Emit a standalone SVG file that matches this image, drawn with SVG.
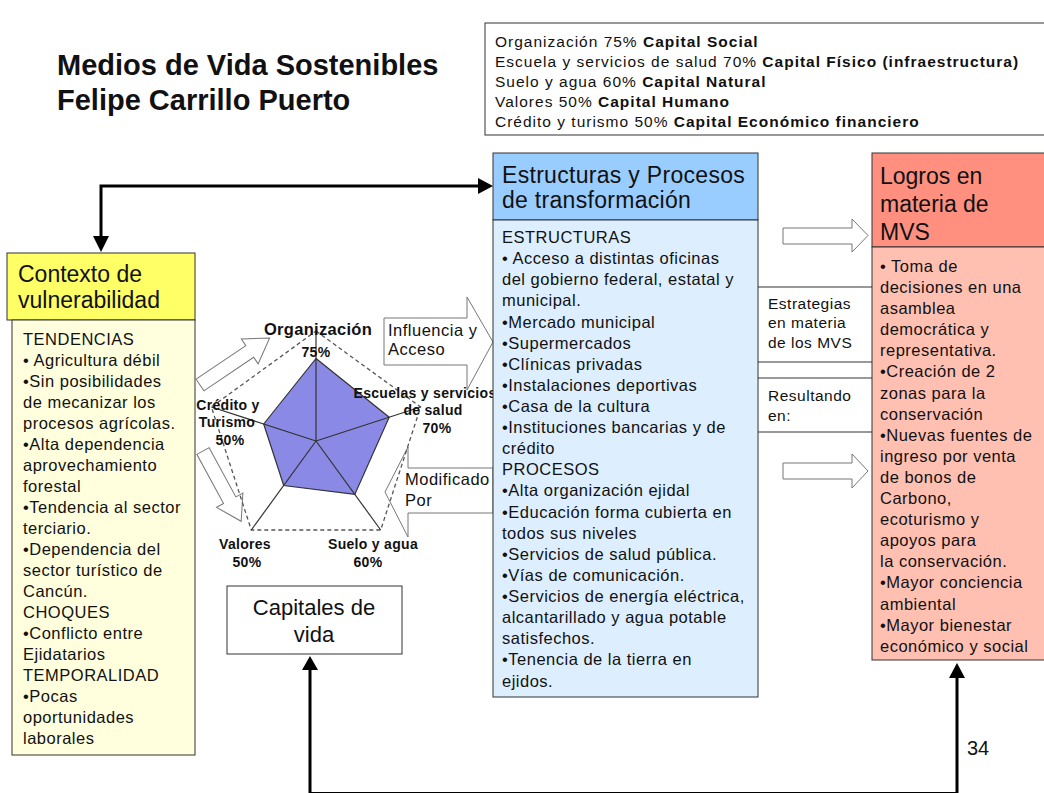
<svg xmlns="http://www.w3.org/2000/svg" width="1044" height="793" viewBox="0 0 1044 793">
<style>
text{font-family:"Liberation Sans",Arial,sans-serif;fill:#111}
.title{font-size:29px;font-weight:bold}
.hd{font-size:23px}
.bd{font-size:16.5px;letter-spacing:0.5px}
.tr{font-size:15.5px;letter-spacing:1px}
.lbl{font-size:14px;font-weight:bold;text-anchor:middle;letter-spacing:0.3px}
.box{stroke:#333;stroke-width:1}
.hollow{fill:#fff;stroke:#777;stroke-width:1}
.conn{fill:none;stroke:#000;stroke-width:3}
.sep{stroke:#333;stroke-width:1}
</style>
<rect width="1044" height="793" fill="#fff"/>

<g id="title">
<text class="title" x="57" y="75">Medios de Vida Sostenibles</text>
<text class="title" x="57" y="110">Felipe Carrillo Puerto</text>
</g>

<g id="legend">
<rect x="485" y="23" width="570" height="112" fill="#fff" class="box"/>
<text class="tr" x="495" y="47">Organización 75% <tspan font-weight="bold">Capital Social</tspan></text>
<text class="tr" x="495" y="67">Escuela y servicios de salud 70% <tspan font-weight="bold">Capital Físico (infraestructura)</tspan></text>
<text class="tr" x="495" y="87">Suelo y agua 60% <tspan font-weight="bold">Capital Natural</tspan></text>
<text class="tr" x="495" y="107">Valores 50% <tspan font-weight="bold">Capital Humano</tspan></text>
<text class="tr" x="495" y="127">Crédito y turismo 50% <tspan font-weight="bold">Capital Económico financiero</tspan></text>
</g>

<g id="connectors">
<path class="conn" d="M101,238 L101,186 L479,186"/>
<polygon points="93,236 109,236 101,252" fill="#000"/>
<polygon points="478,178 478,194 493,186" fill="#000"/>
<path class="conn" d="M310,670 L310,793.5 L957,793.5 L957,677"/>
<polygon points="302,670 318,670 310,656" fill="#000"/>
<polygon points="949,678 965,678 957,663" fill="#000"/>
</g>

<g id="contexto">
<rect x="7" y="253" width="188" height="67" fill="#FFFF66" class="box"/>
<rect x="12" y="320" width="183" height="435" fill="#FFFFDD" class="box"/>
<text class="hd" x="18" y="282">Contexto de</text>
<text class="hd" x="18" y="308">vulnerabilidad</text>
<text class="bd">
<tspan x="23" y="345">TENDENCIAS</tspan>
<tspan x="23" y="366">• Agricultura débil</tspan>
<tspan x="23" y="387">•Sin posibilidades</tspan>
<tspan x="23" y="408">de mecanizar los</tspan>
<tspan x="23" y="429">procesos agrícolas.</tspan>
<tspan x="23" y="450">•Alta dependencia</tspan>
<tspan x="23" y="471">aprovechamiento</tspan>
<tspan x="23" y="492">forestal</tspan>
<tspan x="23" y="513">•Tendencia al sector</tspan>
<tspan x="23" y="534">terciario.</tspan>
<tspan x="23" y="555">•Dependencia del</tspan>
<tspan x="23" y="576">sector turístico de</tspan>
<tspan x="23" y="597">Cancún.</tspan>
<tspan x="23" y="618">CHOQUES</tspan>
<tspan x="23" y="639">•Conflicto entre</tspan>
<tspan x="23" y="660">Ejidatarios</tspan>
<tspan x="23" y="681">TEMPORALIDAD</tspan>
<tspan x="23" y="702">•Pocas</tspan>
<tspan x="23" y="723">oportunidades</tspan>
<tspan x="23" y="744">laborales</tspan>
</text>
</g>

<g id="flechas-huecas">
<path class="hollow" d="M0,-7 L60,-7 L60,-15 L84,0 L60,15 L60,7 L0,7 Z" transform="translate(200,385) rotate(-34)"/>
<path class="hollow" d="M0,-7 L56,-7 L56,-15 L80,0 L56,15 L56,7 L0,7 Z" transform="translate(203,451) rotate(61.5)"/>
<path class="hollow" d="M384,318 L467,318 L467,297 L493,342 L467,390 L467,365 L384,365 Z"/>
<text class="bd" x="388" y="336">Influencia y</text>
<text class="bd" x="388" y="355">Acceso</text>
<path class="hollow" d="M493,468 L408,468 L408,447 L385,492 L408,537 L408,513 L493,513 Z"/>
<text class="bd" x="405" y="485">Modificado</text>
<text class="bd" x="405" y="506">Por</text>
<path class="hollow" d="M783,228 L852,228 L852,219 L868,235.5 L852,252 L852,244 L783,244 Z"/>
<path class="hollow" d="M783,463 L852,463 L852,454 L868,471 L852,488 L852,479 L783,479 Z"/>
</g>

<g id="radar">
<polygon points="316,331 420.6,407 380.7,530 251.3,530 211.4,407" fill="none" stroke="#555" stroke-width="1.3" stroke-dasharray="4,3"/>
<polygon points="316,358.5 389.2,417.2 354.8,494.4 283.7,485.5 263.7,424" fill="#8A8AE6" stroke="#333" stroke-width="1.2"/>
<g stroke="#333" stroke-width="1.2">
<line x1="316" y1="441" x2="316" y2="331"/>
<line x1="316" y1="441" x2="420.6" y2="407"/>
<line x1="316" y1="441" x2="380.7" y2="530"/>
<line x1="316" y1="441" x2="251.3" y2="530"/>
<line x1="316" y1="441" x2="211.4" y2="407"/>
</g>
<text class="lbl" x="318" y="335" style="font-size:16.5px">Organización</text>
<text class="lbl" x="316" y="357">75%</text>
<text class="lbl" x="425" y="398">Escuelas y servicios</text>
<text class="lbl" x="433" y="415">de salud</text>
<text class="lbl" x="437" y="433">70%</text>
<text class="lbl" x="228" y="410">Crédito y</text>
<text class="lbl" x="227" y="427">Turismo</text>
<text class="lbl" x="230" y="445">50%</text>
<text class="lbl" x="245" y="549">Valores</text>
<text class="lbl" x="247" y="567">50%</text>
<text class="lbl" x="373" y="549">Suelo y agua</text>
<text class="lbl" x="368" y="567">60%</text>
</g>

<g id="capitales">
<rect x="227" y="586" width="175" height="68" fill="#fff" class="box"/>
<text class="hd" x="314" y="615" text-anchor="middle" style="font-size:22px">Capitales de</text>
<text class="hd" x="314" y="642" text-anchor="middle" style="font-size:22px">vida</text>
</g>

<g id="estructuras">
<rect x="493" y="153" width="265" height="67" fill="#99CCFF" class="box"/>
<rect x="493" y="220" width="265" height="477" fill="#DDEEFF" class="box"/>
<text class="hd" x="502" y="183" style="letter-spacing:0.3px">Estructuras y Procesos</text>
<text class="hd" x="502" y="208" style="letter-spacing:0.3px">de transformación</text>
<text class="bd">
<tspan x="502" y="243">ESTRUCTURAS</tspan>
<tspan x="502" y="264">• Acceso a distintas oficinas</tspan>
<tspan x="502" y="285">del gobierno federal, estatal y</tspan>
<tspan x="502" y="306">municipal.</tspan>
<tspan x="502" y="328">•Mercado municipal</tspan>
<tspan x="502" y="349">•Supermercados</tspan>
<tspan x="502" y="370">•Clínicas privadas</tspan>
<tspan x="502" y="391">•Instalaciones deportivas</tspan>
<tspan x="502" y="412">•Casa de la cultura</tspan>
<tspan x="502" y="433">•Instituciones bancarias y de</tspan>
<tspan x="502" y="454">crédito</tspan>
<tspan x="502" y="475">PROCESOS</tspan>
<tspan x="502" y="496">•Alta organización ejidal</tspan>
<tspan x="502" y="518">•Educación forma cubierta en</tspan>
<tspan x="502" y="539">todos sus niveles</tspan>
<tspan x="502" y="560">•Servicios de salud pública.</tspan>
<tspan x="502" y="581">•Vías de comunicación.</tspan>
<tspan x="502" y="602">•Servicios de energía eléctrica,</tspan>
<tspan x="502" y="623">alcantarillado y agua potable</tspan>
<tspan x="502" y="644">satisfechos.</tspan>
<tspan x="502" y="665">•Tenencia de la tierra en</tspan>
<tspan x="502" y="687">ejidos.</tspan>
</text>
</g>

<g id="estrategias">
<line class="sep" x1="758" y1="287" x2="872" y2="287"/>
<line class="sep" x1="758" y1="362" x2="872" y2="362"/>
<line class="sep" x1="758" y1="378" x2="872" y2="378"/>
<line class="sep" x1="758" y1="432" x2="872" y2="432"/>
<text class="bd" x="768" y="309" style="font-size:15.5px">Estrategias</text>
<text class="bd" x="768" y="328" style="font-size:15.5px">en materia</text>
<text class="bd" x="768" y="348" style="font-size:15.5px">de los MVS</text>
<text class="bd" x="768" y="401" style="font-size:15.5px">Resultando</text>
<text class="bd" x="768" y="421" style="font-size:15.5px">en:</text>
</g>

<g id="logros">
<rect x="872" y="153" width="180" height="94" fill="#FF9080" class="box"/>
<rect x="872" y="247" width="180" height="413" fill="#FFC0B2" class="box"/>
<text class="hd" x="880" y="184">Logros en</text>
<text class="hd" x="880" y="212">materia de</text>
<text class="hd" x="880" y="240">MVS</text>
<text class="bd">
<tspan x="880" y="272">• Toma de</tspan>
<tspan x="880" y="293">decisiones en una</tspan>
<tspan x="880" y="314">asamblea</tspan>
<tspan x="880" y="335">democrática y</tspan>
<tspan x="880" y="356">representativa.</tspan>
<tspan x="880" y="377">•Creación de 2</tspan>
<tspan x="880" y="399">zonas para la</tspan>
<tspan x="880" y="420">conservación</tspan>
<tspan x="880" y="441">•Nuevas fuentes de</tspan>
<tspan x="880" y="462">ingreso por venta</tspan>
<tspan x="880" y="483">de bonos de</tspan>
<tspan x="880" y="504">Carbono,</tspan>
<tspan x="880" y="525">ecoturismo  y</tspan>
<tspan x="880" y="546">apoyos para</tspan>
<tspan x="880" y="567">la conservación.</tspan>
<tspan x="880" y="588">•Mayor conciencia</tspan>
<tspan x="880" y="610">ambiental</tspan>
<tspan x="880" y="631">•Mayor bienestar</tspan>
<tspan x="880" y="652">económico y social</tspan>
</text>
</g>

<g id="pagina">
<text x="967" y="755" style="font-size:20px">34</text>
</g>
</svg>
